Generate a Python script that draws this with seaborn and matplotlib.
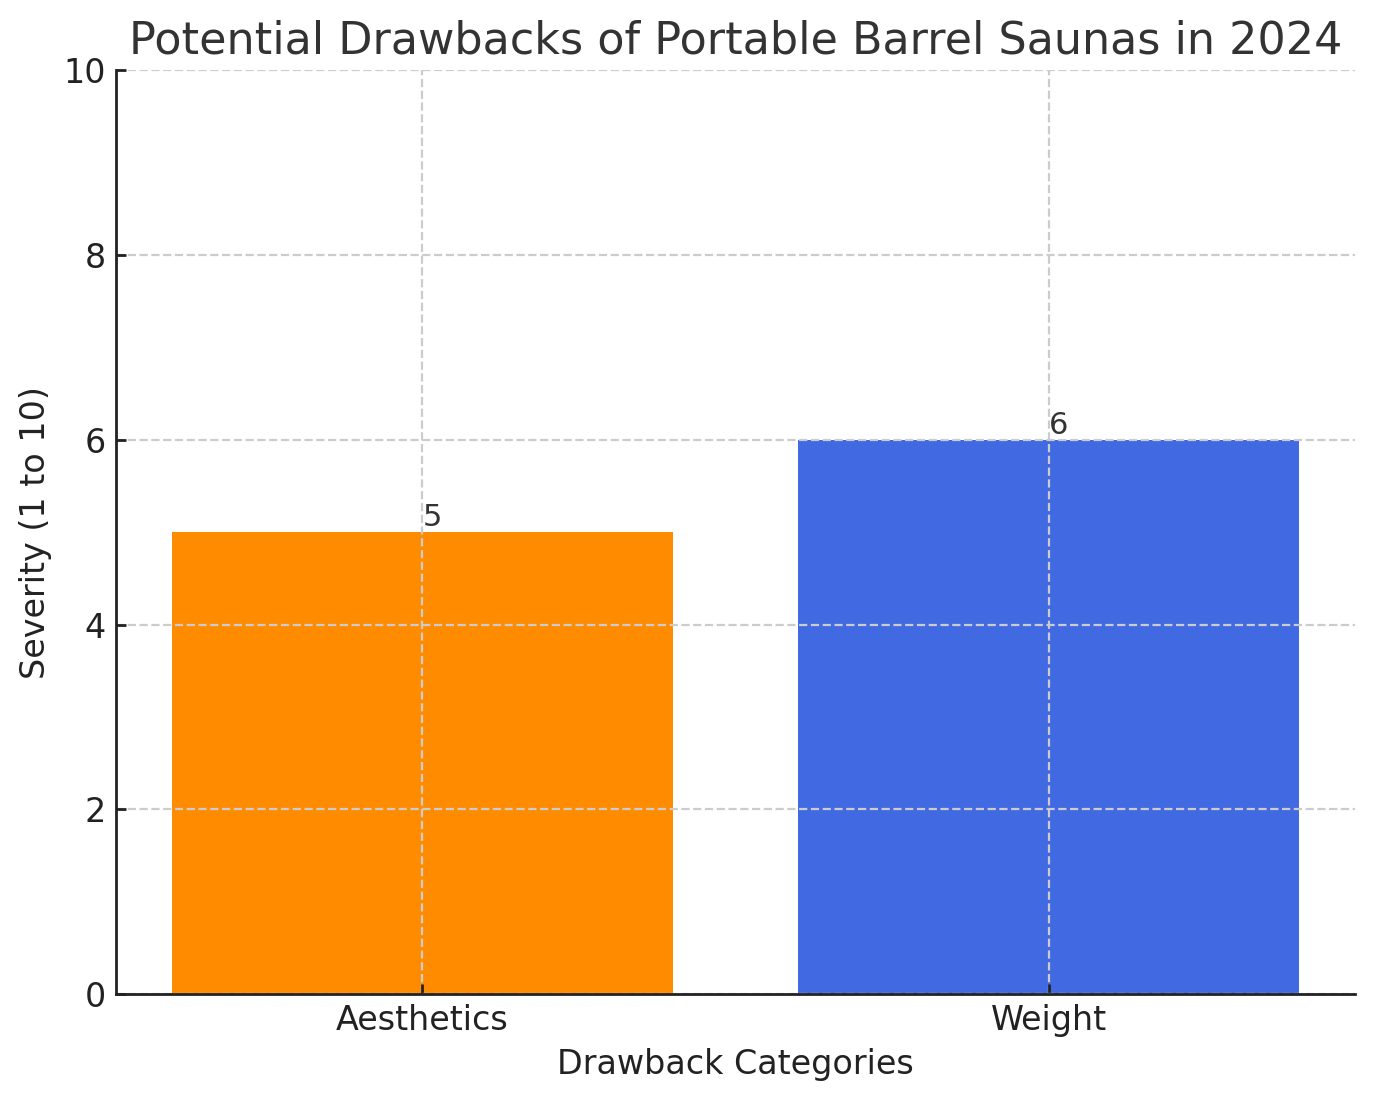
import pandas as pd
import seaborn as sns
from matplotlib import pyplot as plt

categories = ["Aesthetics", "Weight"]
severity = [5, 6]
bar_colors = ["#FF8C00", "#4169E1"]

sns.set_style("ticks")
plt.rcParams["font.family"] = ["DejaVu Sans"]

df = pd.DataFrame({"category": categories, "severity": severity})

fig, ax = plt.subplots(figsize=(6.88, 5.505), dpi=200)

sns.barplot(
    data=df, x="category", y="severity", hue="category",
    palette=bar_colors, width=0.8, saturation=1, legend=False,
    linewidth=0, ax=ax,
)

for i, v in enumerate(severity):
    ax.text(i, v, str(v), ha="left", va="bottom", fontsize=11, color="#333333")

ax.set_ylim(0, 10)
ax.set_xlim(-0.49, 1.49)
ax.grid(True, linestyle="--", color="#cccccc", linewidth=0.8)
ax.set_axisbelow(False)
sns.despine(ax=ax)
for side in ["left", "bottom"]:
    ax.spines[side].set_color("#222222")
    ax.spines[side].set_linewidth(1.0)
    ax.spines[side].set_zorder(3)

ax.set_title("Potential Drawbacks of Portable Barrel Saunas in 2024",
             fontsize=16, color="#333333")
ax.set_xlabel("Drawback Categories", fontsize=12, color="#222222", labelpad=4)
ax.set_ylabel("Severity (1 to 10)", fontsize=12, color="#222222", labelpad=4)
ax.tick_params(labelsize=12, colors="#222222", length=3.5, width=1,
               pad=3.5, direction="in")

fig.subplots_adjust(left=0.084, right=0.985, top=0.936, bottom=0.097)
fig.savefig("out.png", dpi=200)
